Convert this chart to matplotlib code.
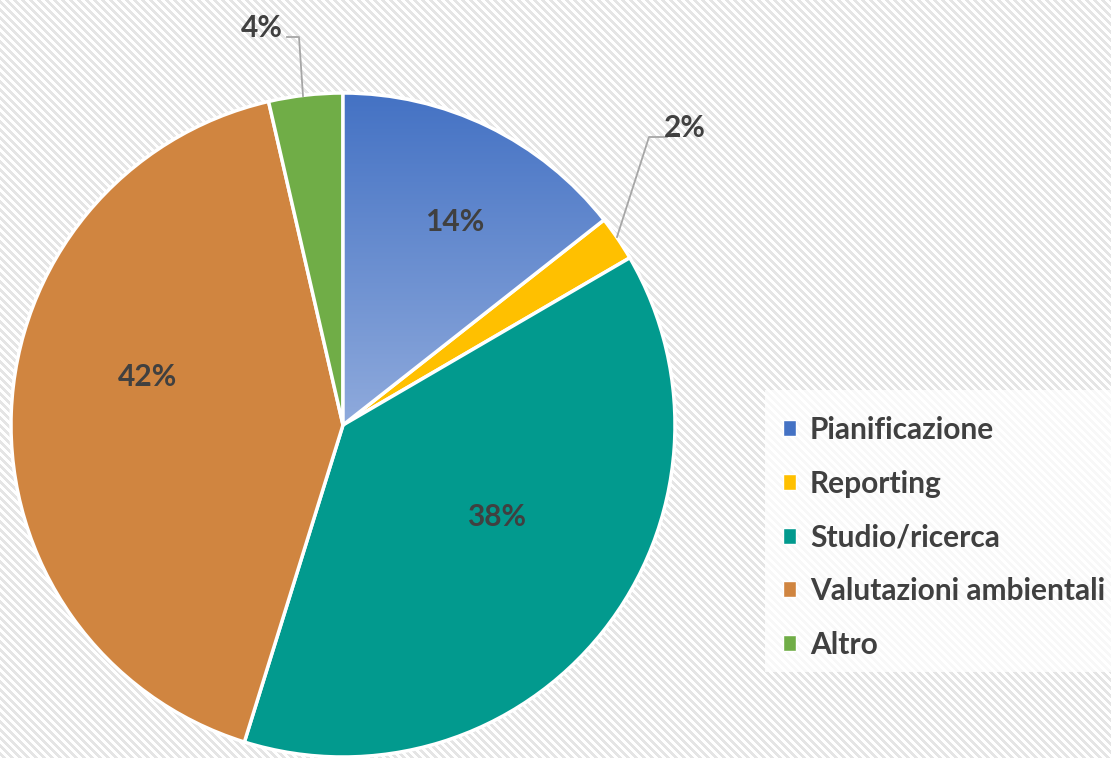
import numpy as np
import matplotlib
matplotlib.use("Agg")
import matplotlib.pyplot as plt
from matplotlib.patches import Wedge, Rectangle
from matplotlib.colors import LinearSegmentedColormap

categories = ["Pianificazione", "Reporting", "Studio/ricerca", "Valutazioni ambientali", "Altro"]
values = [14.4, 2.2, 38.2, 41.6, 3.6]
labels = ["14%", "2%", "38%", "42%", "4%"]
colors = ["#4472C4", "#FFC000", "#029A8E", "#D08540", "#70AD47"]

W, H = 1111, 758
plt.rcParams["font.family"] = ["Lato", "DejaVu Sans"]

fig = plt.figure(figsize=(W / 100, H / 100), dpi=100)
ax = fig.add_axes([0, 0, 1, 1])

# striped background
yy, xx = np.mgrid[0:H, 0:W]
bg = np.where(((yy - xx) % 8) < 4, 0.90, 1.0)
ax.imshow(np.dstack([bg, bg, bg]), extent=(0, W, 0, H), origin="upper",
          zorder=-5, interpolation="nearest")

cx, cy, r = 343, H - 425, 332
wedges, _ = ax.pie(values, colors=colors, startangle=90, counterclock=False,
                   center=(cx, cy), radius=r, frame=True,
                   wedgeprops=dict(edgecolor="white", linewidth=2.5))
ax.set_aspect("equal")
ax.axis("off")

# gradient on first wedge
grad = LinearSegmentedColormap.from_list("g", ["#8FAADC", "#4472C4"])
g = np.linspace(0, 1, 256).reshape(-1, 1)
z0 = wedges[0].get_zorder()
im = ax.imshow(g, cmap=grad, extent=(cx, cx + r, cy, cy + r), origin="lower",
               aspect="auto", zorder=z0 + 0.1)
im.set_clip_path(wedges[0])
ax.add_patch(Wedge((cx, cy), r, wedges[0].theta1, wedges[0].theta2,
                   facecolor="none", edgecolor="white", linewidth=2.5, zorder=z0 + 0.2))
ax.set_xlim(0, W)
ax.set_ylim(0, H)

txt = "#404040"
fs = 21.5
# inside labels (pixel positions)
inside = {0: (455, 222), 2: (497, 517), 3: (148, 377)}
for i, (x, y) in inside.items():
    ax.text(x, H - y, labels[i], ha="center", va="center", fontsize=fs,
            fontweight="bold", color=txt, zorder=10)

# outside labels with leader lines
ax.text(685, H - 128, labels[1], ha="center", va="center", fontsize=fs,
        fontweight="bold", color=txt, zorder=10)
ax.plot([667, 649, 617], [H - 137, H - 137, H - 237], color="#A6A6A6", lw=1.3, zorder=9)
ax.text(262, H - 28, labels[4], ha="center", va="center", fontsize=fs,
        fontweight="bold", color=txt, zorder=10)
ax.plot([287, 299, 303], [H - 37, H - 37, H - 96], color="#A6A6A6", lw=1.3, zorder=9)

# legend background box
ax.add_patch(Rectangle((765, H - 672), W - 765, 282, facecolor="white", alpha=0.75,
                       edgecolor="none", zorder=8))

leg = ax.legend(wedges, categories, loc="upper left", bbox_to_anchor=(783 / W, 1 - 416 / H),
                bbox_transform=fig.transFigure, frameon=False,
                handlelength=0.45, handleheight=0.45, handletextpad=0.45,
                labelspacing=0.86, borderpad=0, borderaxespad=0,
                prop=dict(size=fs, weight="bold"))
leg.set_zorder(12)
for t in leg.get_texts():
    t.set_color(txt)
for h in leg.legend_handles:
    h.set_edgecolor("white")
    h.set_linewidth(1)

fig.savefig("out.png", dpi=100)
